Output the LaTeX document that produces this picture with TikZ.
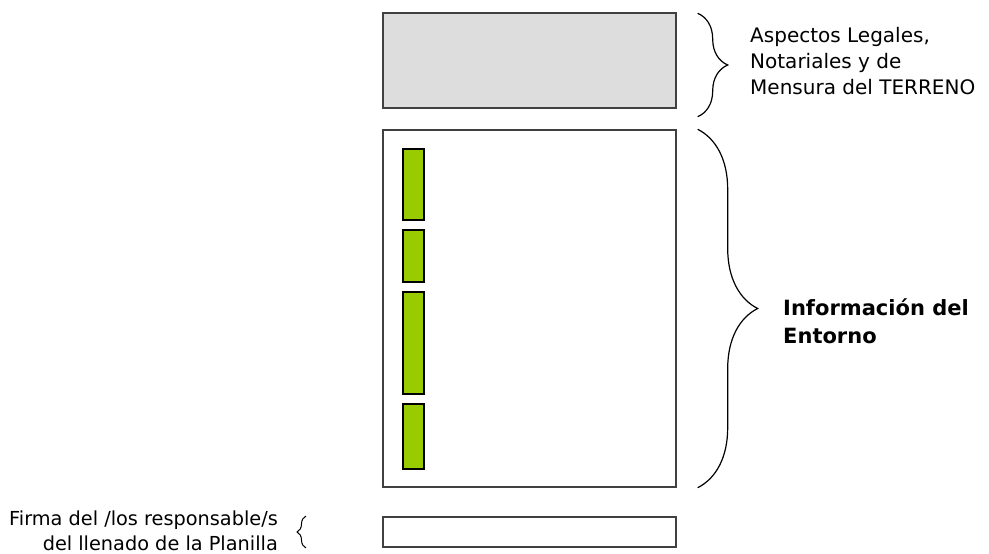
\documentclass[tikz,border=0pt]{standalone}
\usepackage{fontspec}
\setmainfont{DejaVu Sans}
\usepackage{xcolor}
\usetikzlibrary{positioning,calc,decorations.pathreplacing}

\definecolor{gris}{HTML}{DDDDDD}
\definecolor{borde}{HTML}{404040}
\definecolor{verde}{HTML}{99CC00}

\tikzset{
    caja/.style={draw=borde, line width=1.4pt, inner sep=0pt, minimum width=293pt},
    barra/.style={draw=black, line width=1.2pt, fill=verde},
    llave/.style={decorate, decoration={brace, amplitude=#1}, line width=1.2pt},
    texto/.style={font=\fontsize{20}{26}\selectfont, inner sep=0pt}
}

\begin{document}
\begin{tikzpicture}[x=1pt, y=-1pt]
    \useasboundingbox (0,0) rectangle (989,554);

    % the three blocks of the sheet
    \node[caja, fill=gris, minimum height=95pt] (legal) at (529.5,60.5) {};
    \node[caja, fill=white, minimum height=357pt] (entorno) at (529.5,308.5) {};
    \node[caja, fill=white, minimum height=30pt] (firma) at (529.5,532) {};

    % green bars inside the middle block
    \foreach \ya/\yb in {149/220, 230/282, 292/394, 404/469}
        \draw[barra] (403,\ya) rectangle (424,\yb);

    % braces and their labels
    \coordinate (llA) at ($(legal.north east)+(21,1)$);
    \coordinate (llB) at ($(legal.south east)+(21,8)$);
    \draw[llave=30pt] (llA) -- (llB);
    \node[texto, anchor=west, align=left] (aspectos) at (750,61)
        {Aspectos Legales,\\Notariales y de\\Mensura del TERRENO};

    \coordinate (enA) at ($(entorno.north east)+(21,0)$);
    \coordinate (enB) at ($(entorno.south east)+(21,0)$);
    \draw[llave=60pt] (enA) -- (enB);
    \node[texto, anchor=west, align=left, font=\fontsize{21}{28}\selectfont\bfseries] (info) at (783,321)
        {Información del\\Entorno};

    \coordinate (fiA) at (306,548);
    \coordinate (fiB) at (306,516);
    \draw[llave=9pt, line width=1pt] (fiA) -- (fiB);
    \node[texto, anchor=east, align=right, font=\fontsize{19.3}{25}\selectfont] (resp) at (278,531)
        {Firma del /los responsable/s\\del llenado de la Planilla};
\end{tikzpicture}
\end{document}
